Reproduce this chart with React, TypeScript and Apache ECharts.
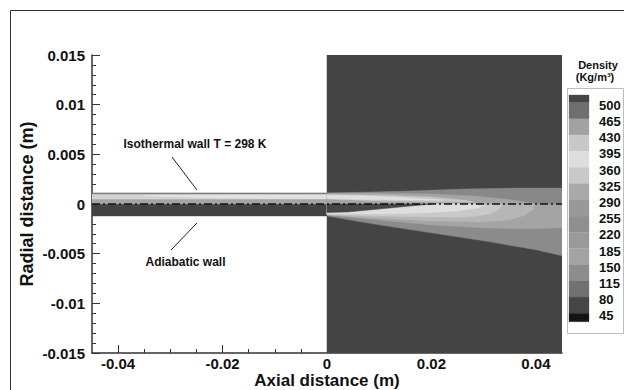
import React, { useEffect, useRef } from "react";
import * as echarts from "echarts";

const FONT = '"Liberation Sans", Arial, Helvetica, sans-serif';

// Axis ticks
const xMajorTicks = [-0.04, -0.02, 0, 0.02, 0.04];
const xMinorTicks = [-0.035, -0.03, -0.025, -0.015, -0.01, -0.005, 0.005, 0.01, 0.015, 0.025, 0.03, 0.035];
const xRange = [-0.045, 0.045];
const yRange = [-0.015, 0.015];

// Legend levels (Density, Kg/m³), top to bottom, and band colours (one above, one below)
const legendLevels = [500, 465, 430, 395, 360, 325, 290, 255, 220, 185, 150, 115, 80, 45];
const legendColors = [
  "#464646", "#6f6f6f", "#a2a2a2", "#c8c8c8", "#dddddd", "#c9c9c9", "#a9a9a9", "#999999",
  "#8f8f8f", "#9a9a9a", "#a3a3a3", "#8d8d8d", "#717171", "#454545", "#141414",
];

// Contour regions, drawn in order (later on top), in data coordinates (m)
const regionColors = [
  "#444444", // ambient domain
  "#424242", // nozzle lower half
  "#a6a6a6", // nozzle upper half
  "#7c7c7c", // isothermal wall edge
  "#d2d2d2", // nozzle upper light band
  "#e2e2e2", // nozzle upper bright core
  "#888888", // jet upper outer
  "#a4a4a4", // jet upper mid
  "#c6c6c6", // jet upper light
  "#e0e0e0", // jet upper bright
  "#8b8b8b", // jet lower outer
  "#a4a4a4", // jet lower band 2
  "#b6b6b6", // jet lower band 3
  "#c9c9c9", // jet lower band 4
  "#dedede", // jet lower bright wedge
  "#464646", // jet lower dense core
];
const regionPolygons: number[][][] = [
  [[0, -0.015], [0.045, -0.015], [0.045, 0.015], [0, 0.015]],
  [[-0.045, -0.0012], [0, -0.0012], [0, 0], [-0.045, 0]],
  [[-0.045, 0], [0, 0], [0, 0.0011], [-0.045, 0.0011]],
  [[-0.045, 0.00095], [0, 0.00095], [0, 0.0011], [-0.045, 0.0011]],
  [[-0.045, 0.0005], [0, 0.0005], [0, 0.00095], [-0.045, 0.00095]],
  [[-0.035, 0.0008], [-0.02, 0.0006], [0, 0.00055], [0, 0.0009], [-0.02, 0.0009], [-0.035, 0.00088]],
  [[0, 0], [0, 0.0011], [0.008, 0.0012], [0.016, 0.0013], [0.026, 0.0015], [0.036, 0.0016], [0.045, 0.0016], [0.045, 0]],
  [[0, 0], [0, 0.0011], [0.01, 0.0011], [0.02, 0.001], [0.028, 0.0008], [0.034, 0.0005], [0.038, 0.0002], [0.04, 0]],
  [[0, 0.0005], [0, 0.00095], [0.01, 0.0009], [0.02, 0.0007], [0.026, 0.0004], [0.028, 0.0002], [0.02, 0.00022], [0.01, 0.0003]],
  [[0, 0.00055], [0, 0.0009], [0.008, 0.0008], [0.016, 0.0006], [0.022, 0.0004], [0.016, 0.0004], [0.008, 0.00045]],
  [[0, 0], [0, -0.0012], [0.01, -0.0021], [0.02, -0.0029], [0.03, -0.0037], [0.04, -0.0046], [0.045, -0.0052], [0.045, 0]],
  [[0, 0], [0, -0.0011], [0.01, -0.0016], [0.02, -0.0021], [0.03, -0.0024], [0.038, -0.0025], [0.045, -0.0024], [0.045, 0]],
  [[0, 0], [0, -0.0011], [0.01, -0.0014], [0.02, -0.0017], [0.03, -0.0018], [0.035, -0.0016], [0.038, -0.0011], [0.0395, -0.0005], [0.0398, 0]],
  [[0, 0], [0, -0.00105], [0.01, -0.0012], [0.02, -0.0013], [0.027, -0.0013], [0.031, -0.001], [0.033, -0.0005], [0.0335, 0]],
  [[0, -0.0005], [0, -0.001], [0.01, -0.001], [0.018, -0.0009], [0.025, -0.0007], [0.029, -0.0004], [0.03, -0.0001], [0.028, 0], [0.02, 0], [0.01, -0.0002]],
  [[0, 0], [0, -0.00085], [0.004, -0.0008], [0.008, -0.0006], [0.012, -0.0004], [0.016, -0.0002], [0.02, 0]],
];
const centerline = [[-0.045, 0], [0.045, 0]];

const fmt = (v: number) => String(parseFloat(Number(v).toFixed(4)));

export default function App() {
  const ref = useRef<HTMLDivElement>(null);
  useEffect(() => {
    if (!ref.current) return;
    const chart = echarts.init(ref.current, null, { renderer: "svg" });

    // legend geometry
    const swX = 569, swW = 20, swTop = 95, swBottom = 321.7, b0 = 102.7, step = 16.2;
    const bounds = [swTop, ...legendLevels.map((_, i) => b0 + step * i), swBottom];
    const legendGraphics: any[] = [];
    legendGraphics.push({
      type: "rect", shape: { x: 567.5, y: 88.5, width: 56, height: 245 },
      style: { fill: "#fff", stroke: "#bdbdbd", lineWidth: 1 }, z: 10,
    });
    legendColors.forEach((c, i) => {
      legendGraphics.push({
        type: "rect", shape: { x: swX, y: bounds[i], width: swW, height: bounds[i + 1] - bounds[i] },
        style: { fill: c, stroke: c, lineWidth: 0.3 }, z: 11,
      });
    });
    legendLevels.forEach((lv, i) => {
      legendGraphics.push({
        type: "text", x: 599, y: bounds[i + 1] + 2.5, z: 12,
        style: { text: String(lv), fontSize: 13, fontWeight: "bold", fontFamily: FONT, fill: "#111", align: "left", verticalAlign: "middle" },
      });
    });
    legendGraphics.push({
      type: "text", x: 598, y: 65, z: 12,
      style: { text: "Density", fontSize: 11, fontWeight: "bold", fontFamily: FONT, fill: "#111", align: "center", verticalAlign: "middle" },
    });
    legendGraphics.push({
      type: "text", x: 595, y: 77, z: 12,
      style: { text: "(Kg/m³)", fontSize: 11, fontWeight: "bold", fontFamily: FONT, fill: "#111", align: "center", verticalAlign: "middle" },
    });

    const annotations: any[] = [
      { type: "polyline", shape: { points: [[10.5, 390], [10.5, 10.5], [624, 10.5]] }, style: { stroke: "#333", lineWidth: 1, fill: "none" }, z: 10 },
      { type: "text", x: 195, y: 144, z: 12, style: { text: "Isothermal wall T = 298 K", fontSize: 12, fontWeight: "bold", fontFamily: FONT, fill: "#111", align: "center", verticalAlign: "middle" } },
      { type: "line", shape: { x1: 172, y1: 157, x2: 197, y2: 190 }, style: { stroke: "#222", lineWidth: 1 }, z: 12 },
      { type: "text", x: 185.5, y: 262, z: 12, style: { text: "Adiabatic wall", fontSize: 12, fontWeight: "bold", fontFamily: FONT, fill: "#111", align: "center", verticalAlign: "middle" } },
      { type: "line", shape: { x1: 197, y1: 223, x2: 171, y2: 250 }, style: { stroke: "#222", lineWidth: 1 }, z: 12 },
    ];

    const labelStyle = { fontSize: 15, fontWeight: "bold" as const, fontFamily: FONT, color: "#111" };

    chart.setOption({
      animation: false,
      backgroundColor: "#ffffff",
      grid: { left: 92, right: 62, top: 55, bottom: 37, containLabel: false, outerBoundsMode: "none" },
      xAxis: [
        {
          type: "value", min: xRange[0], max: xRange[1], position: "bottom",
          name: "Axial distance (m)", nameLocation: "middle", nameGap: 19, nameMoveOverlap: false,
          nameTextStyle: { fontSize: 17, fontWeight: "bold", fontFamily: FONT, color: "#111" },
          axisLine: { show: true, onZero: false, lineStyle: { color: "#333", width: 1.5 } },
          axisTick: { show: true, inside: true, length: 8, customValues: xMajorTicks, lineStyle: { color: "#333", width: 1 } },
          axisLabel: { show: true, customValues: xMajorTicks, formatter: fmt, margin: 3, ...labelStyle },
          splitLine: { show: false },
        },
        {
          type: "value", min: xRange[0], max: xRange[1], position: "bottom", offset: 0,
          axisLine: { show: false, onZero: false },
          axisTick: { show: true, inside: true, length: 4, customValues: xMinorTicks, lineStyle: { color: "#333", width: 1 } },
          axisLabel: { show: false, customValues: xMinorTicks },
          splitLine: { show: false },
        },
      ],
      yAxis: {
        type: "value", min: yRange[0], max: yRange[1], interval: 0.005,
        name: "Radial distance (m)", nameLocation: "middle", nameGap: 56, nameRotate: 90, nameMoveOverlap: false,
        nameTextStyle: { fontSize: 18, fontWeight: "bold", fontFamily: FONT, color: "#111" },
        axisLine: { show: true, onZero: false, lineStyle: { color: "#333", width: 1.5 } },
        axisTick: { show: true, inside: true, length: 8, lineStyle: { color: "#333", width: 1 } },
        minorTick: { show: true, splitNumber: 5, length: 4, lineStyle: { color: "#333", width: 1 } },
        axisLabel: { formatter: fmt, margin: 7, ...labelStyle },
        splitLine: { show: false },
        minorSplitLine: { show: false },
      },
      graphic: [...annotations, ...legendGraphics],
      series: [
        {
          type: "custom", name: "Density contours", xAxisIndex: 0, yAxisIndex: 0, clip: true, z: 1,
          data: regionPolygons.map((_, i) => [i]),
          renderItem: (params: any, api: any) => {
            const i = params.dataIndex;
            const pts = regionPolygons[i].map((p) => api.coord(p));
            return {
              type: "polygon",
              shape: { points: pts },
              style: { fill: regionColors[i], stroke: regionColors[i], lineWidth: 0.5 },
            };
          },
        },
        {
          type: "line", name: "Axis", xAxisIndex: 0, yAxisIndex: 0, data: centerline, symbol: "none", z: 5,
          lineStyle: { color: "#111", width: 1.5, type: [8, 3, 2, 3] },
        },
      ],
    });
    return () => chart.dispose();
  }, []);
  return <div ref={ref} style={{ position: "absolute", left: 0, top: 0, width: 624, height: 390 }} />;
}
